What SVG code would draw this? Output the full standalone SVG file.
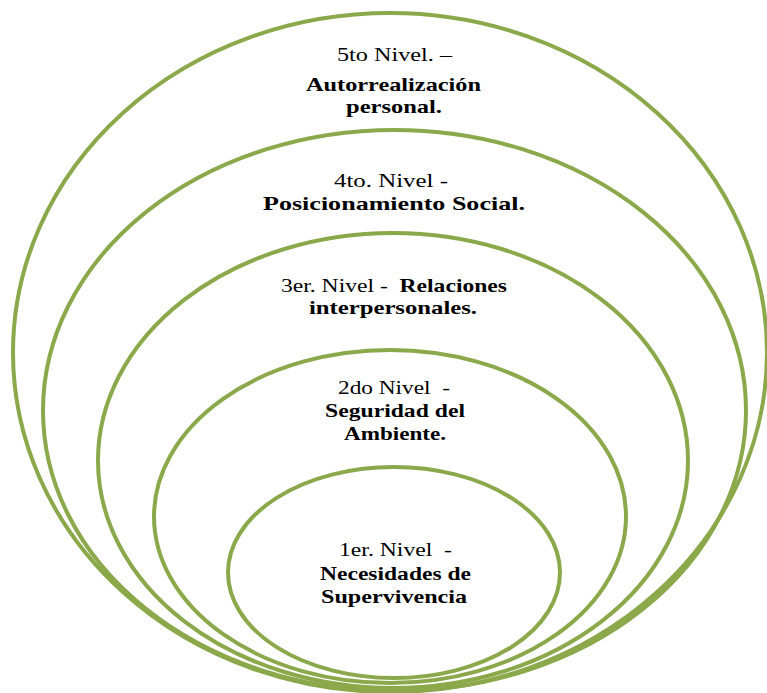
<svg xmlns="http://www.w3.org/2000/svg" width="767" height="693" viewBox="0 0 767 693">
<style>
.ring{fill:none;stroke:#8BA84B;stroke-width:4}
text{font-family:'Liberation Serif',serif;font-size:19px;fill:#000}
.b{font-weight:bold}
</style>
<rect width="767" height="693" fill="#fff"/>
<g id="nivel5">
<ellipse class="ring" cx="390" cy="352.5" rx="377" ry="339.5"/>
<text font-family="Liberation Serif, serif" x="337" y="61" textLength="115" lengthAdjust="spacingAndGlyphs">5to Nivel. –</text>
<text class="b" font-family="Liberation Serif, serif" x="306" y="91" textLength="175" lengthAdjust="spacingAndGlyphs">Autorrealización</text>
<text class="b" font-family="Liberation Serif, serif" x="346" y="113" textLength="96" lengthAdjust="spacingAndGlyphs">personal.</text>
</g>
<g id="nivel4">
<ellipse class="ring" cx="394.5" cy="410.5" rx="351.5" ry="280.5"/>
<text font-family="Liberation Serif, serif" x="334" y="187" textLength="114" lengthAdjust="spacingAndGlyphs">4to. Nivel -</text>
<text class="b" font-family="Liberation Serif, serif" x="263" y="210" textLength="262" lengthAdjust="spacingAndGlyphs">Posicionamiento Social.</text>
</g>
<g id="nivel3">
<ellipse class="ring" cx="393" cy="460.5" rx="295" ry="227.5"/>
<text font-family="Liberation Serif, serif" x="281" y="292" textLength="226" lengthAdjust="spacingAndGlyphs" xml:space="preserve">3er. Nivel -  <tspan class="b">Relaciones</tspan></text>
<text class="b" font-family="Liberation Serif, serif" x="309" y="314" textLength="168" lengthAdjust="spacingAndGlyphs">interpersonales.</text>
</g>
<g id="nivel2">
<ellipse class="ring" cx="390" cy="516.5" rx="236" ry="166.5"/>
<text font-family="Liberation Serif, serif" x="338" y="394" textLength="112" lengthAdjust="spacingAndGlyphs" xml:space="preserve">2do Nivel  -</text>
<text class="b" font-family="Liberation Serif, serif" x="325" y="417" textLength="140" lengthAdjust="spacingAndGlyphs">Seguridad del</text>
<text class="b" font-family="Liberation Serif, serif" x="344" y="440" textLength="102" lengthAdjust="spacingAndGlyphs">Ambiente.</text>
</g>
<g id="nivel1">
<ellipse class="ring" cx="394" cy="572.5" rx="166" ry="105.5"/>
<text font-family="Liberation Serif, serif" x="339" y="556" textLength="113" lengthAdjust="spacingAndGlyphs" xml:space="preserve">1er. Nivel  -</text>
<text class="b" font-family="Liberation Serif, serif" x="320" y="580" textLength="151" lengthAdjust="spacingAndGlyphs">Necesidades de</text>
<text class="b" font-family="Liberation Serif, serif" x="321" y="603" textLength="146" lengthAdjust="spacingAndGlyphs">Supervivencia</text>
</g>
</svg>
